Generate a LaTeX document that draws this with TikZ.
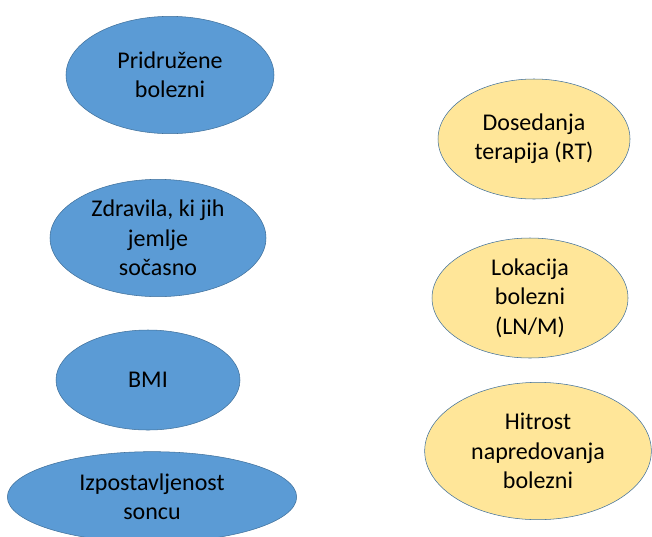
\documentclass[tikz,border=0pt]{standalone}
\usepackage{fontspec}
\setmainfont{Carlito}
\usetikzlibrary{shapes.geometric}
\definecolor{factblue}{HTML}{5B9BD5}
\definecolor{factyellow}{HTML}{FFE699}
\definecolor{rimblue}{HTML}{41719C}
\tikzstyle{patient} = [ellipse, text centered, align=center, draw=rimblue, fill=factblue, inner sep=0pt]
\tikzstyle{disease} = [ellipse, text centered, align=center, draw=rimblue, fill=factyellow, inner sep=0pt]

\begin{document}
\begin{tikzpicture}[x=0.75pt,y=-0.75pt,font=\fontsize{18}{22}\selectfont]
\useasboundingbox (0,0) rectangle (652,536);

\node (comorb) [patient, minimum width=156pt, minimum height=88pt] at (170,75) {Pridružene\\bolezni};
\node (drugs) [patient, minimum width=162pt, minimum height=88pt] at (158,238) {Zdravila, ki jih\\jemlje\\sočasno};
\node (bmi) [patient, minimum width=138pt, minimum height=75pt] at (148,380) {BMI};
\node (sun) [patient, minimum width=217pt, minimum height=68pt] at (152,497) {Izpostavljenost\\soncu};

\node (therapy) [disease, minimum width=144pt, minimum height=90pt] at (534,139) {Dosedanja\\terapija (RT)};
\node (location) [disease, minimum width=147pt, minimum height=90pt] at (530,298) {Lokacija\\bolezni\\(LN/M)};
\node (speed) [disease, minimum width=170pt, minimum height=103pt] at (538,451) {Hitrost\\napredovanja\\bolezni};

\end{tikzpicture}
\end{document}
